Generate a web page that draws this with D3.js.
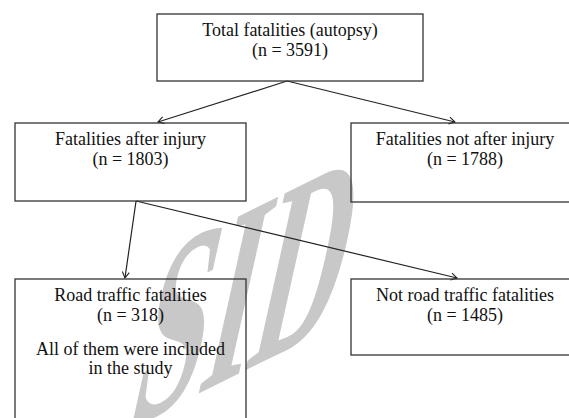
<!DOCTYPE html>
<html>
<head>
<meta charset="utf-8">
<script src="https://cdn.jsdelivr.net/npm/d3@7"></script>
<style>
  body { margin: 0; background: #fff; }
  svg { display: block; }
</style>
</head>
<body>
<div id="chart"></div>
<script>
// flowchart content
var boxTitles = ["Total fatalities (autopsy)", "Fatalities after injury", "Fatalities not after injury",
                 "Road traffic fatalities", "Not road traffic fatalities"];
var boxCounts = [3591, 1803, 1788, 318, 1485];
var boxNotes = [[], [], [], ["All of them were included", "in the study"], []];
var boxLevel = [0, 1, 1, 2, 2];
var boxColumn = ["top", "left", "right", "left", "right"];
var links = [[0, 1], [0, 2], [1, 3], [1, 4]];

var fullWidth = 569, fullHeight = 418;

var svg = d3.select("#chart").append("svg")
    .attr("width", fullWidth)
    .attr("height", fullHeight);

// layout scales
var rowTop = d3.scaleOrdinal().domain([0, 1, 2]).range([14, 123, 279]);
var colLeft = d3.scaleOrdinal().domain(["top", "left", "right"]).range([157, 15, 351]);
var colWidth = d3.scaleOrdinal().domain(["top", "left", "right"]).range([266, 231, 228]);
var boxHeight = [67, 78, 79, 150, 76];
// where arrows leave / arrive along a box edge (fraction of width)
var srcAnchor = [0.489, 0.524, 0.5, 0.5, 0.5];
var tgtAnchor = [0.5, 0.619, 0.456, 0.476, 0.465];

var nodes = boxTitles.map(function(t, i) {
    var x = colLeft(boxColumn[i]), w = colWidth(boxColumn[i]);
    return {title: t, count: boxCounts[i], notes: boxNotes[i],
            x: x, y: rowTop(boxLevel[i]), w: w, h: boxHeight[i], i: i};
});

// watermark behind everything
svg.append("text")
    .attr("transform", "matrix(1.25,-0.62,-0.6,2.7,125,430)")
    .style("font-family", "'Liberation Serif', 'Times New Roman', serif")
    .style("font-size", "100px")
    .style("font-weight", "bold")
    .attr("fill", "#c8c8c8")
    .text("SID");

svg.append("defs").append("marker")
    .attr("id", "arrow")
    .attr("markerUnits", "userSpaceOnUse")
    .attr("viewBox", "-8 -5 10 10")
    .attr("refX", 0).attr("refY", 0)
    .attr("markerWidth", 10).attr("markerHeight", 10)
    .attr("orient", "auto")
    .append("path")
    .attr("d", "M-6,-3.5L0,0L-6,3.5")
    .attr("fill", "none")
    .attr("stroke", "#222")
    .attr("stroke-width", 1.1);

svg.append("g").attr("class", "links")
    .selectAll("line")
    .data(links)
    .enter()
    .append("line")
    .attr("x1", function(d) { var s = nodes[d[0]]; return s.x + s.w * srcAnchor[d[0]]; })
    .attr("y1", function(d) { var s = nodes[d[0]]; return s.y + s.h; })
    .attr("x2", function(d) { var t = nodes[d[1]]; return t.x + t.w * tgtAnchor[d[1]]; })
    .attr("y2", function(d) { return nodes[d[1]].y - 1; })
    .attr("stroke", "#222")
    .attr("stroke-width", 1.2)
    .attr("marker-end", "url(#arrow)");

var boxes = svg.append("g").attr("class", "boxes")
    .selectAll("g.box")
    .data(nodes)
    .enter()
    .append("g")
    .attr("class", "box");

boxes.append("rect")
    .attr("x", function(d) { return d.x; })
    .attr("y", function(d) { return d.y; })
    .attr("width", function(d) { return d.w; })
    .attr("height", function(d) { return d.h; })
    .attr("fill", "none")
    .attr("stroke", "#333")
    .attr("stroke-width", 1.3);

var label = boxes.append("text")
    .attr("text-anchor", "middle")
    .style("font-family", "'Liberation Serif', 'Times New Roman', serif")
    .style("font-size", "18px")
    .attr("fill", "#111");

label.append("tspan")
    .attr("x", function(d) { return d.x + d.w / 2; })
    .attr("y", function(d) { return d.y + 22; })
    .text(function(d) { return d.title; });

label.append("tspan")
    .attr("x", function(d) { return d.x + d.w / 2; })
    .attr("y", function(d) { return d.y + 42; })
    .text(function(d) { return "(n = " + d.count + ")"; });

label.each(function(d) {
    var t = d3.select(this);
    d.notes.forEach(function(line, k) {
        t.append("tspan")
            .attr("x", d.x + d.w / 2)
            .attr("y", d.y + 76 + k * 19)
            .text(line);
    });
});
</script>
</body>
</html>
